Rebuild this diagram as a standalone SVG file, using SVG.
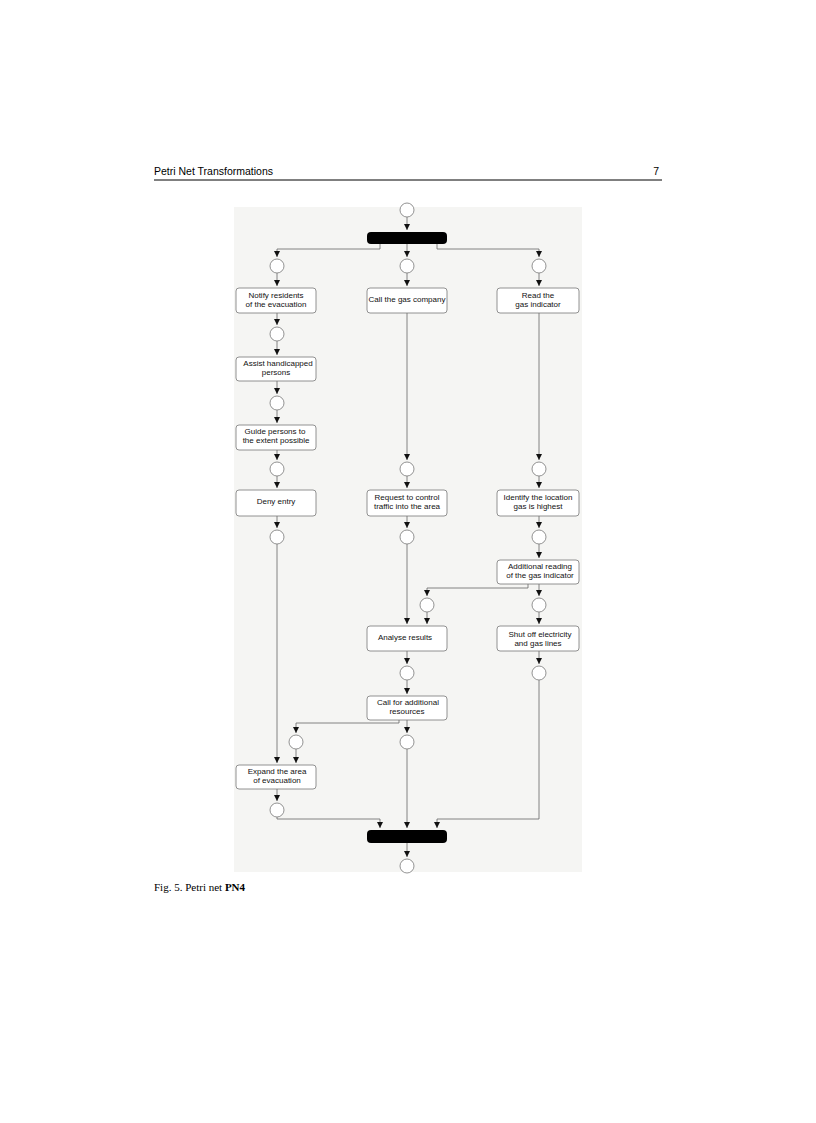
<svg xmlns="http://www.w3.org/2000/svg" width="816" height="1123" viewBox="0 0 816 1123">
<style>
.t{font-family:"Liberation Sans",Arial,sans-serif;font-size:8px;fill:#111;text-anchor:middle}
.b rect{fill:#fff;stroke:#777;stroke-width:0.8}
.p{fill:#fff;stroke:#777;stroke-width:0.8}
.c path{fill:none;stroke:#666;stroke-width:0.8;marker-end:url(#a)}
</style>
<defs><marker id="a" viewBox="0 0 6 6" refX="6" refY="3" markerWidth="6" markerHeight="6" orient="auto" markerUnits="userSpaceOnUse"><path d="M0,0L6,3L0,6z" fill="#111"/></marker></defs>
<rect width="816" height="1123" fill="#fff"/>
<text x="154" y="175" font-family="Liberation Sans,Arial,sans-serif" font-size="10.5">Petri Net Transformations</text>
<text x="659" y="175" font-family="Liberation Sans,Arial,sans-serif" font-size="10.5" text-anchor="end">7</text>
<line x1="154" y1="180" x2="662" y2="180" stroke="#000" stroke-width="1"/>
<rect x="234" y="207" width="348" height="665" fill="#f5f5f3"/>
<g class="c">
<path d="M407,217V230"/>
<path d="M380,244V249H277V257"/><path d="M407,244V257"/><path d="M437,244V249H539V257"/>
<path d="M277,273V286"/><path d="M407,273V286"/><path d="M539,273V286"/>
<path d="M277,313V325"/><path d="M277,341V355"/><path d="M277,381V394"/><path d="M277,410V423"/><path d="M277,450V460"/>
<path d="M407,313V460"/><path d="M539,313V460"/>
<path d="M277,476V488"/><path d="M407,476V488"/><path d="M539,476V488"/>
<path d="M277,516V528"/><path d="M407,516V528"/><path d="M539,516V528"/>
<path d="M539,544V558"/>
<path d="M528,584V588H427V596"/><path d="M539,584V596"/>
<path d="M407,544V624"/><path d="M427,612V624"/><path d="M539,612V624"/>
<path d="M407,651V664"/><path d="M539,651V664"/>
<path d="M407,680V694"/>
<path d="M399,720V723H296V733"/><path d="M407,720V733"/>
<path d="M277,544V763"/><path d="M296,749V763"/>
<path d="M277,789V801"/>
<path d="M277,817V819H380V828"/><path d="M407,749V828"/><path d="M539,680V819H437V828"/>
<path d="M407,843V857"/>
</g>
<g id="bar1"><rect x="367" y="232" width="80" height="12" rx="4" fill="#000"/></g>
<g id="bar2"><rect x="367" y="830" width="80" height="13" rx="4" fill="#000"/></g>
<g id="places">
<circle class="p" cx="407" cy="210" r="7"/>
<circle class="p" cx="277" cy="266" r="7"/><circle class="p" cx="407" cy="266" r="7"/><circle class="p" cx="539" cy="266" r="7"/>
<circle class="p" cx="277" cy="334" r="7"/><circle class="p" cx="277" cy="403" r="7"/>
<circle class="p" cx="277" cy="469" r="7"/><circle class="p" cx="407" cy="469" r="7"/><circle class="p" cx="539" cy="469" r="7"/>
<circle class="p" cx="277" cy="537" r="7"/><circle class="p" cx="407" cy="537" r="7"/><circle class="p" cx="539" cy="537" r="7"/>
<circle class="p" cx="427" cy="605" r="7"/><circle class="p" cx="539" cy="605" r="7"/>
<circle class="p" cx="407" cy="673" r="7"/><circle class="p" cx="539" cy="673" r="7"/>
<circle class="p" cx="296" cy="742" r="7"/><circle class="p" cx="407" cy="742" r="7"/>
<circle class="p" cx="277" cy="810" r="7"/><circle class="p" cx="407" cy="866" r="7"/>
</g>
<g id="n1" class="b"><rect x="236" y="288" width="80" height="25" rx="3"/><text class="t" x="276" y="298">Notify residents</text><text class="t" x="276" y="307">of the evacuation</text></g>
<g id="n2" class="b"><rect x="367" y="288" width="80" height="25" rx="3"/><text class="t" x="407" y="302">Call the gas company</text></g>
<g id="n3" class="b"><rect x="497" y="288" width="82" height="25" rx="3"/><text class="t" x="538" y="298">Read the</text><text class="t" x="538" y="307">gas indicator</text></g>
<g id="n4" class="b"><rect x="236" y="357" width="80" height="24" rx="3"/><text class="t" x="278" y="366">Assist handicapped</text><text class="t" x="276" y="375">persons</text></g>
<g id="n5" class="b"><rect x="236" y="425" width="80" height="25" rx="3"/><text class="t" x="275" y="434">Guide persons to</text><text class="t" x="276" y="443">the extent possible</text></g>
<g id="n6" class="b"><rect x="236" y="490" width="80" height="26" rx="3"/><text class="t" x="276" y="504">Deny entry</text></g>
<g id="n7" class="b"><rect x="367" y="490" width="80" height="26" rx="3"/><text class="t" x="407" y="500">Request to control</text><text class="t" x="407" y="509">traffic into the area</text></g>
<g id="n8" class="b"><rect x="497" y="490" width="82" height="26" rx="3"/><text class="t" x="538" y="500">Identify the location</text><text class="t" x="538" y="509">gas is highest</text></g>
<g id="n9" class="b"><rect x="497" y="560" width="82" height="24" rx="3"/><text class="t" x="540" y="569">Additional reading</text><text class="t" x="540" y="578">of the gas indicator</text></g>
<g id="n10" class="b"><rect x="367" y="626" width="80" height="25" rx="3"/><text class="t" x="405" y="640">Analyse results</text></g>
<g id="n11" class="b"><rect x="497" y="626" width="82" height="25" rx="3"/><text class="t" x="540" y="637">Shut off electricity</text><text class="t" x="538" y="646">and gas lines</text></g>
<g id="n12" class="b"><rect x="367" y="696" width="80" height="24" rx="3"/><text class="t" x="408" y="705">Call for additional</text><text class="t" x="407" y="714">resources</text></g>
<g id="n13" class="b"><rect x="236" y="765" width="80" height="24" rx="3"/><text class="t" x="277" y="774">Expand the area</text><text class="t" x="277" y="783">of evacuation</text></g>
<text x="154" y="891" font-family="Liberation Serif,serif" font-size="11">Fig. 5. Petri net <tspan font-weight="bold">PN4</tspan></text>
</svg>
